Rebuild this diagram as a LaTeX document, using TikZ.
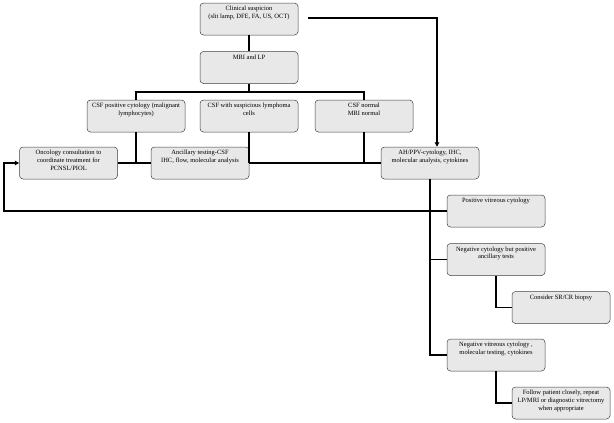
\documentclass[tikz,border=0pt]{standalone}
\usepackage{fontspec}
\setmainfont{Liberation Serif}
\usetikzlibrary{arrows.meta,calc}
\newcommand{\bxt}[1]{\parbox[c][27pt][t]{98pt}{\centering\fontsize{6.5}{7.6}\selectfont\strut #1}}
\tikzset{
  bx/.style={draw=black!75, line width=0.5pt, fill=black!9, rounded corners=3.5pt, inner xsep=0pt, inner ysep=2.5pt},
  conn/.style={line width=1.5pt, black},
  tip/.style={-{Triangle[length=4.5pt,width=4.5pt]}}
}
\begin{document}
\begin{tikzpicture}[x=1pt,y=-1pt]
\useasboundingbox (0,0) rectangle (614,423);
% boxes
\node[bx] (clin) at (249,19) {\bxt{Clinical suspicion\\(slit lamp, DFE, FA, US, OCT)}};
\node[bx] (mri) at (249,67.5) {\bxt{MRI and LP}};
\node[bx] (pos) at (136,116) {\bxt{CSF positive cytology (malignant\\lymphocytes)}};
\node[bx] (susp) at (249,116) {\bxt{CSF with suspicious lymphoma\\cells}};
\node[bx] (norm) at (364,116) {\bxt{CSF normal\\MRI normal}};
\node[bx] (onc) at (68.5,163) {\bxt{Oncology consultation to\\coordinate treatment for\\PCNSL/PIOL}};
\node[bx] (anc) at (200,163) {\bxt{Ancillary testing-CSF\\IHC, flow, molecular analysis}};
\node[bx] (ah) at (430,163) {\bxt{AH/PPV-cytology, IHC,\\molecular analysis, cytokines}};
\node[bx] (pv) at (496,211) {\bxt{Positive vitreous cytology}};
\node[bx] (nc) at (496,259.5) {\bxt{Negative cytology but positive\\ancillary tests}};
\node[bx] (sr) at (561,307.5) {\bxt{Consider SR/CR biopsy}};
\node[bx] (nv) at (496,355) {\bxt{Negative vitreous cytology ,\\molecular testing, cytokines}};
\node[bx] (fu) at (561,403) {\bxt{Follow patient closely, repeat\\LP/MRI or diagnostic vitrectomy\\when appropriate}};
% helper coordinates
\coordinate (cstart) at (308,18);
\coordinate (bar) at (0,92);
\coordinate (lft) at (4,0);
% connectors
\draw[conn] (clin.south) -- (mri.north);
\draw[conn] (mri.south) -- (mri.south |- bar);
\draw[conn] (pos.north) -- (pos.north |- bar) -- (norm.north |- bar) -- (norm.north);
\draw[conn] (susp.south) -- (susp.south |- anc.east);
\draw[conn] (pos.south) -- (pos.south |- onc.east);
\draw[conn] (norm.south) -- (norm.south |- ah.west);
\draw[conn] (onc.east) -- (anc.west);
\draw[conn] (anc.east) -- (ah.west);
\draw[conn,tip] (cstart) -| ($(ah.north)+(7,0)$);
\draw[conn] (ah.south) -- (ah.south |- nv.west) -- (nv.west);
\draw[conn] (ah.south |- nc.west) -- (nc.west);
\draw[conn,tip] (pv.west) -- (pv.west -| lft) |- (onc.west);
\draw[conn] (nc.south) |- (sr.west);
\draw[conn] (nv.south) |- (fu.west);
\end{tikzpicture}
\end{document}
